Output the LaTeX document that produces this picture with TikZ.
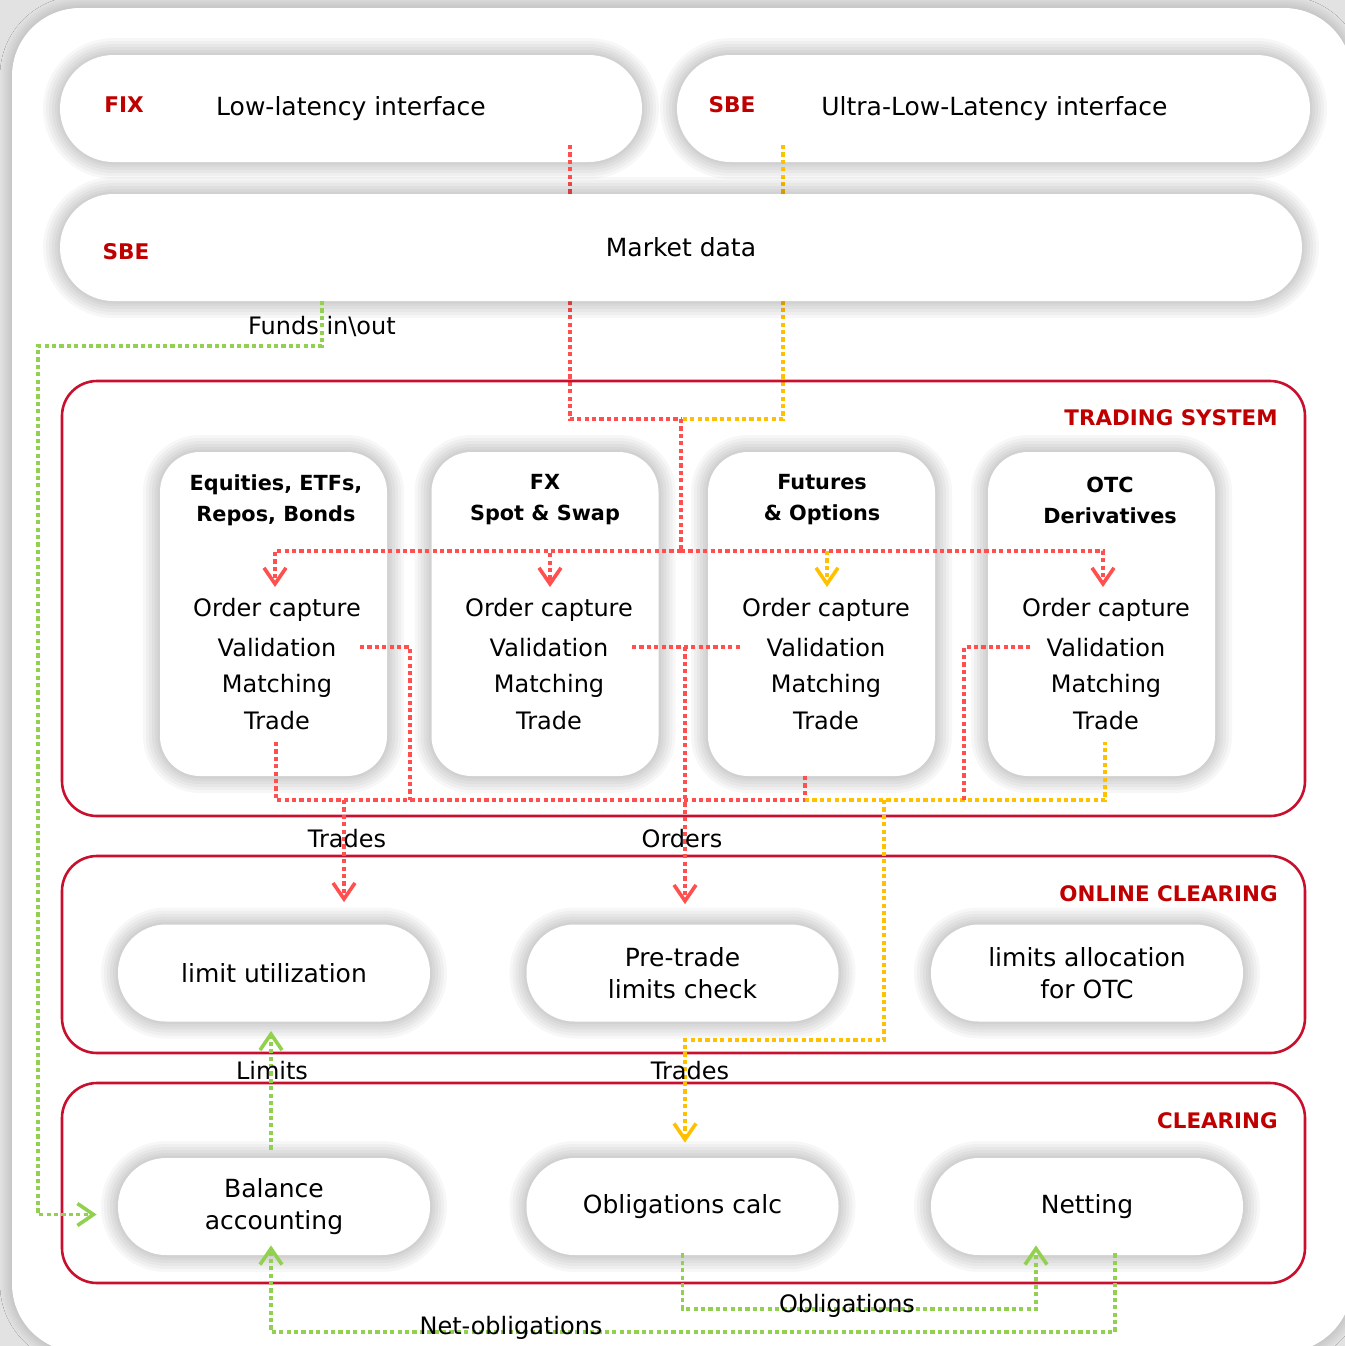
\documentclass[tikz,border=0pt]{standalone}
\usepackage{fontspec}
\setmainfont{DejaVu Sans}
\usetikzlibrary{arrows.meta,shadows.blur}
\definecolor{framered}{HTML}{C8102E}
\definecolor{labred}{HTML}{C00000}
\definecolor{linered}{HTML}{FF4F4F}
\definecolor{lineyel}{HTML}{FFC000}
\definecolor{linegrn}{HTML}{92D050}
\definecolor{bggray}{HTML}{E2E2E2}
\begin{document}
\begin{tikzpicture}[x=0.5pt,y=-0.5pt,
  >={Straight Barb[length=8pt,width=11pt,line width=1.8pt]},
  halo/.style={preaction={draw=black,draw opacity=0.03,line width=#1}},
  softshadow/.style={halo=17pt,halo=14pt,halo=11pt,halo=8pt,halo=5pt,halo=2.5pt},
  bigpill/.style={fill=white,softshadow,rounded corners=26.75pt,minimum height=53.5pt,inner sep=0pt,font=\fontsize{12.5}{16}\selectfont},
  rowpill/.style={fill=white,softshadow,rounded corners=24pt,minimum width=156pt,minimum height=48.5pt,inner sep=0pt,align=center,font=\fontsize{12.5}{16}\selectfont},
  prodbox/.style={fill=white,softshadow,rounded corners=20pt,minimum width=113.5pt,minimum height=162pt},
  frame/.style={draw=framered,line width=1.3pt,rounded corners=17.5pt,minimum width=621.5pt,inner sep=0pt},
  tag/.style={text=labred,inner sep=0pt,font=\bfseries\fontsize{10.8}{13}\selectfont},
  seclabel/.style={text=labred,anchor=east,inner sep=0pt,font=\bfseries\fontsize{10.7}{13}\selectfont},
  prodtitle/.style={align=center,inner sep=0pt,font=\bfseries\fontsize{10.4}{15.5}\selectfont},
  stage/.style={inner sep=0pt,font=\fontsize{12}{14}\selectfont},
  flowlabel/.style={inner sep=0pt,font=\fontsize{12}{14}\selectfont},
  link/.style={line width=1.8pt,dash pattern=on 2.1pt off 1.6pt},
  redl/.style={link,draw=linered},
  yell/.style={link,draw=lineyel},
  grnl/.style={link,draw=linegrn}]
\useasboundingbox (0,0) rectangle (1345,1346);
\fill[bggray] (0,0) rectangle (1345,1346);
\fill[white,rounded corners=34pt,blur shadow={shadow xshift=0pt,shadow yshift=0pt,shadow blur radius=6pt,shadow blur steps=24,shadow opacity=25}] (12,8) rectangle (1352,1352);

\node[bigpill,minimum width=291pt] (fix) at (351,108.5) {Low-latency interface};
\node[bigpill,minimum width=316.5pt] (sbe) at (993.5,108.5) {\hspace{1pt}Ultra-Low-Latency interface};
\coordinate (fixo) at (570,145);
\coordinate (sbeo) at (783,145);
\coordinate (tsj) at (681,419);
\draw[redl] (fixo) |- (tsj);
\draw[yell] (sbeo) |- (tsj);
\node[bigpill,minimum width=621pt] (md) at (681,247.5) {Market data};
\node[tag] (fixtag) at (124,105) {FIX};
\node[tag] (sbetag) at (732,105) {SBE};
\node[tag] (mdtag) at (126,252) {SBE};

\node[frame,minimum height=217.5pt] (ts) at (683.5,598.5) {};
\node[frame,minimum height=98.5pt] (oc) at (683.5,954.5) {};
\node[frame,minimum height=100pt] (cl) at (683.5,1183) {};
\node[seclabel] (tslab) at (1278,418) {TRADING SYSTEM};
\node[seclabel] (oclab) at (1278,894) {ONLINE CLEARING};
\node[seclabel] (cllab) at (1278,1121) {CLEARING};

\node[prodbox] (eq) at (273.5,614) {};
\node[prodbox] (fx) at (545,614) {};
\node[prodbox] (fut) at (821.5,614) {};
\node[prodbox] (otc) at (1101.5,614) {};
\node[prodtitle] (eqt) at (276,500) {Equities, ETFs,\\Repos, Bonds};
\node[prodtitle] (fxt) at (545,500) {FX\\Spot \& Swap};
\node[prodtitle] (futt) at (822,500) {Futures\\\& Options};
\node[prodtitle] (otct) at (1110,500) {OTC\\Derivatives};

\node[stage] (eqoc) at (277,610) {Order capture};
\node[stage] (eqval) at (277,648) {Validation};
\node[stage] (eqmat) at (277,686) {Matching};
\node[stage] (eqtr) at (277,721) {Trade};
\node[stage] (fxoc) at (549,610) {Order capture};
\node[stage] (fxval) at (549,648) {Validation};
\node[stage] (fxmat) at (549,686) {Matching};
\node[stage] (fxtr) at (549,721) {Trade};
\node[stage] (futoc) at (826,610) {Order capture};
\node[stage] (futval) at (826,648) {Validation};
\node[stage] (futmat) at (826,686) {Matching};
\node[stage] (futtr) at (826,721) {Trade};
\node[stage] (otcoc) at (1106,610) {Order capture};
\node[stage] (otcval) at (1106,648) {Validation};
\node[stage] (otcmat) at (1106,686) {Matching};
\node[stage] (otctr) at (1106,721) {Trade};

\node[rowpill] (limu) at (274,973) {limit utilization};
\node[rowpill] (pre) at (682.5,973) {Pre-trade\\limits check};
\node[rowpill] (alloc) at (1087,973) {limits allocation\\for OTC};
\node[rowpill] (bal) at (274,1206.5) {Balance\\accounting};
\node[rowpill] (obl) at (682.5,1206.5) {Obligations calc};
\node[rowpill] (net) at (1087,1206.5) {Netting};

\coordinate (bus) at (681,551);
\coordinate (eqin) at (275,587);
\coordinate (fxin) at (550,587);
\coordinate (futin) at (827,587);
\coordinate (otcin) at (1103,587);
\draw[redl] (tsj) -- (bus);
\draw[redl,->] (bus) -| (eqin);
\draw[redl,->] (bus) -| (fxin);
\draw[redl,->] (bus) -| (otcin);
\draw[yell,->] (bus -| futin) -- (futin);

\coordinate (lowbus) at (0,800);
\coordinate (eqto) at (276,742);
\coordinate (futto) at (805,775);
\coordinate (otcto) at (1105,742);
\coordinate (eqvo) at (360,647);
\coordinate (eqvd) at (410,800);
\coordinate (fxvo) at (632,647);
\coordinate (futvo) at (740,647);
\coordinate (otcvo) at (1030,647);
\coordinate (otcvd) at (964,800);
\coordinate (ordj) at (685,647);
\coordinate (trj) at (344,800);
\coordinate (ytr) at (884,800);
\coordinate (ytk) at (884,1040);
\draw[redl] (eqto) |- (futto |- lowbus) -- (futto);
\draw[yell] (futto |- lowbus) -| (otcto);
\draw[redl] (eqvo) -| (eqvd);
\draw[redl] (otcvo) -| (otcvd);
\draw[redl] (fxvo) -- (futvo);
\draw[redl,->,shorten >=10pt] (ordj) -- (ordj |- pre.north);
\draw[redl,->,shorten >=11pt] (trj) -- (trj |- limu.north);
\draw[yell,->,shorten >=7.5pt] (ytr) -- (ytk) -| (ytk -| ordj) -- (ordj |- obl.north);

\coordinate (fundo) at (322,301);
\coordinate (fundk) at (38,346);
\coordinate (nbus) at (0,1332);
\coordinate (obus) at (0,1309);
\draw[grnl,->,shorten >=10.5pt] (fundo) |- (fundk) |- ([yshift=-4pt]bal.west);
\draw[grnl,->,shorten <=4pt,shorten >=4.5pt] ([xshift=-1.5pt]bal.north) -- ([xshift=-1.5pt]limu.south);
\draw[grnl,->,shorten >=-5pt] ([xshift=14pt,yshift=1pt]net.south) -- ([xshift=14pt]net.south |- nbus) -| ([xshift=-1.5pt]bal.south);
\draw[grnl,->,shorten >=-5pt] ([yshift=1pt]obl.south) -- (obl.south |- obus) -| ([xshift=-25.5pt]net.south);

\node[flowlabel] (lbfunds) at (322,326) {Funds in\textbackslash out};
\node[flowlabel] (lbtr) at (347,839) {Trades};
\node[flowlabel] (lbord) at (682,839) {Orders};
\node[flowlabel] (lblim) at (272,1071) {Limits};
\node[flowlabel] (lbtr2) at (690,1071) {Trades};
\node[flowlabel] (lbobl) at (847,1306) {Obligations};
\node[flowlabel] (lbnet) at (511,1328) {Net-obligations};
\end{tikzpicture}
\end{document}
